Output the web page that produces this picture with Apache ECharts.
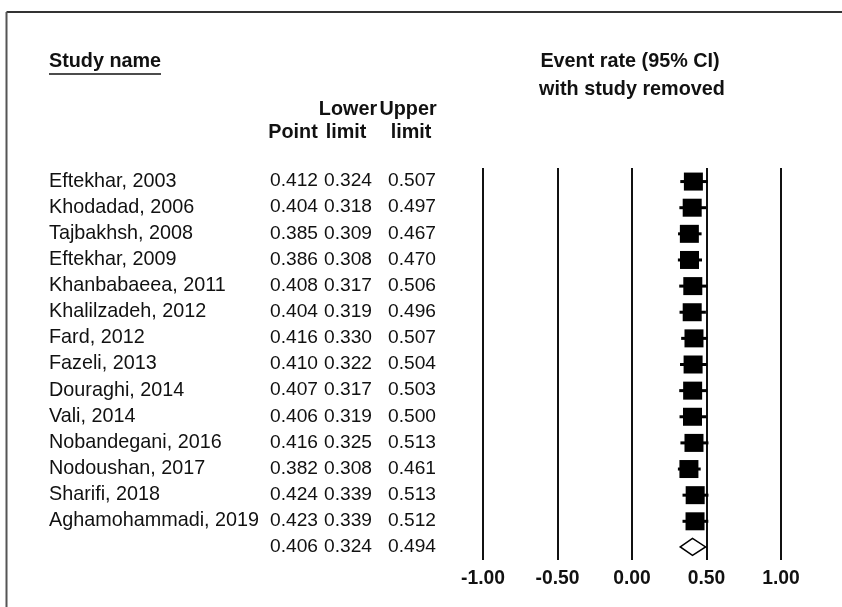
<!DOCTYPE html>
<html>
<head>
<meta charset="utf-8">
<script src="https://cdn.jsdelivr.net/npm/echarts@6/dist/echarts.min.js"></script>
<style>
html,body{margin:0;padding:0;background:#fff;}
#chart{width:842px;height:607px;}
</style>
</head>
<body>
<div id="chart"></div>
<script>
var studies = ["Eftekhar, 2003","Khodadad, 2006","Tajbakhsh, 2008","Eftekhar, 2009","Khanbabaeea, 2011","Khalilzadeh, 2012","Fard, 2012","Fazeli, 2013","Douraghi, 2014","Vali, 2014","Nobandegani, 2016","Nodoushan, 2017","Sharifi, 2018","Aghamohammadi, 2019"];
var pointVals = [0.412,0.404,0.385,0.386,0.408,0.404,0.416,0.410,0.407,0.406,0.416,0.382,0.424,0.423];
var lowerVals = [0.324,0.318,0.309,0.308,0.317,0.319,0.330,0.322,0.317,0.319,0.325,0.308,0.339,0.339];
var upperVals = [0.507,0.497,0.467,0.470,0.506,0.496,0.507,0.504,0.503,0.500,0.513,0.461,0.513,0.512];
var summaryPoint = 0.406, summaryLower = 0.324, summaryUpper = 0.494;
var xTicks = [-1.0,-0.5,0.0,0.5,1.0];

var FONT = "'Liberation Sans', Arial, sans-serif";
var HF = 'bold 19.8px ' + FONT;

var rowNames = studies.concat(['']);
var rowPoint = pointVals.concat([summaryPoint]);
var rowLower = lowerVals.concat([summaryLower]);
var rowUpper = upperVals.concat([summaryUpper]);
function fmt(v){ return v.toFixed(3); }

var studyData = studies.map(function(n,i){ return [pointVals[i], lowerVals[i], upperVals[i], i]; });
var summaryData = [[summaryPoint, summaryLower, summaryUpper, studies.length]];

function catAxis(labels, margin, align, fs){
  return {
    type:'category', data:labels, inverse:true, position:'left', offset:0,
    axisLine:{show:false}, axisTick:{show:false}, splitLine:{show:false},
    axisLabel:{show:true, interval:0, margin:margin, align:align, color:'#111',
      fontFamily:FONT, fontSize:fs, padding:[8,0,0,0]}
  };
}

var chart = echarts.init(document.getElementById('chart'), null, {renderer:'canvas'});
var option = {
  backgroundColor:'#fff',
  animation:false,
  grid:{left:483, right:61, top:168, bottom:47, containLabel:false},
  xAxis:{
    type:'value', min:-1, max:1, interval:0.5,
    axisLine:{show:false}, axisTick:{show:false},
    splitLine:{show:true, lineStyle:{color:'#111', width:2}},
    axisLabel:{margin:9, color:'#111', fontFamily:FONT, fontSize:19.3, fontWeight:'bold',
      formatter:function(v){ return v.toFixed(2); }}
  },
  yAxis:[
    catAxis(rowNames, 434, 'left', 19.8),
    catAxis(rowPoint.map(fmt), 165, 'right', 19.2),
    catAxis(rowLower.map(fmt), 111, 'right', 19.2),
    catAxis(rowUpper.map(fmt), 47, 'right', 19.2)
  ],
  series:[
    {
      type:'custom', yAxisIndex:0,
      data:studyData,
      encode:{x:[0,1,2], y:3},
      renderItem:function(params, api){
        var y = api.value(3);
        var p = api.coord([api.value(0), y]);
        var lo = api.coord([api.value(1), y]);
        var hi = api.coord([api.value(2), y]);
        var w = 19, h = 18;
        return {type:'group', children:[
          {type:'line', shape:{x1:lo[0], y1:p[1]+0.5, x2:hi[0], y2:p[1]+0.5}, style:{stroke:'#000', lineWidth:3}},
          {type:'rect', shape:{x:p[0]-w/2, y:p[1]-h/2+0.5, width:w, height:h}, style:{fill:'#000'}}
        ]};
      }
    },
    {
      type:'custom', yAxisIndex:0,
      data:summaryData,
      encode:{x:[0,1,2], y:3},
      renderItem:function(params, api){
        var y = api.value(3);
        var p = api.coord([api.value(0), y]);
        var lo = api.coord([api.value(1), y]);
        var hi = api.coord([api.value(2), y]);
        var h = 8.5;
        return {type:'polygon', shape:{points:[[lo[0],p[1]],[p[0],p[1]-h],[hi[0],p[1]],[p[0],p[1]+h]]},
          style:{fill:'#fff', stroke:'#000', lineWidth:1.5}};
      }
    }
  ],
  graphic:[
    {type:'line', shape:{x1:6.5, y1:12, x2:842, y2:12}, style:{stroke:'#333', lineWidth:2}},
    {type:'line', shape:{x1:6.5, y1:12, x2:6.5, y2:607}, style:{stroke:'#555', lineWidth:2}},
    {type:'text', x:49, y:62, style:{text:'Study name', font:HF, fill:'#111', align:'left', verticalAlign:'middle'}},
    {type:'line', shape:{x1:49, y1:74, x2:161, y2:74}, style:{stroke:'#111', lineWidth:1.5}},
    {type:'text', x:630, y:62, style:{text:'Event rate (95% CI)', font:HF, fill:'#111', align:'center', verticalAlign:'middle'}},
    {type:'text', x:632, y:90, style:{text:'with study removed', font:HF, fill:'#111', align:'center', verticalAlign:'middle'}},
    {type:'text', x:348, y:110, style:{text:'Lower', font:HF, fill:'#111', align:'center', verticalAlign:'middle'}},
    {type:'text', x:408, y:110, style:{text:'Upper', font:HF, fill:'#111', align:'center', verticalAlign:'middle'}},
    {type:'text', x:293, y:133, style:{text:'Point', font:HF, fill:'#111', align:'center', verticalAlign:'middle'}},
    {type:'text', x:346, y:133, style:{text:'limit', font:HF, fill:'#111', align:'center', verticalAlign:'middle'}},
    {type:'text', x:411, y:133, style:{text:'limit', font:HF, fill:'#111', align:'center', verticalAlign:'middle'}}
  ]
};
chart.setOption(option);
</script>
</body>
</html>
